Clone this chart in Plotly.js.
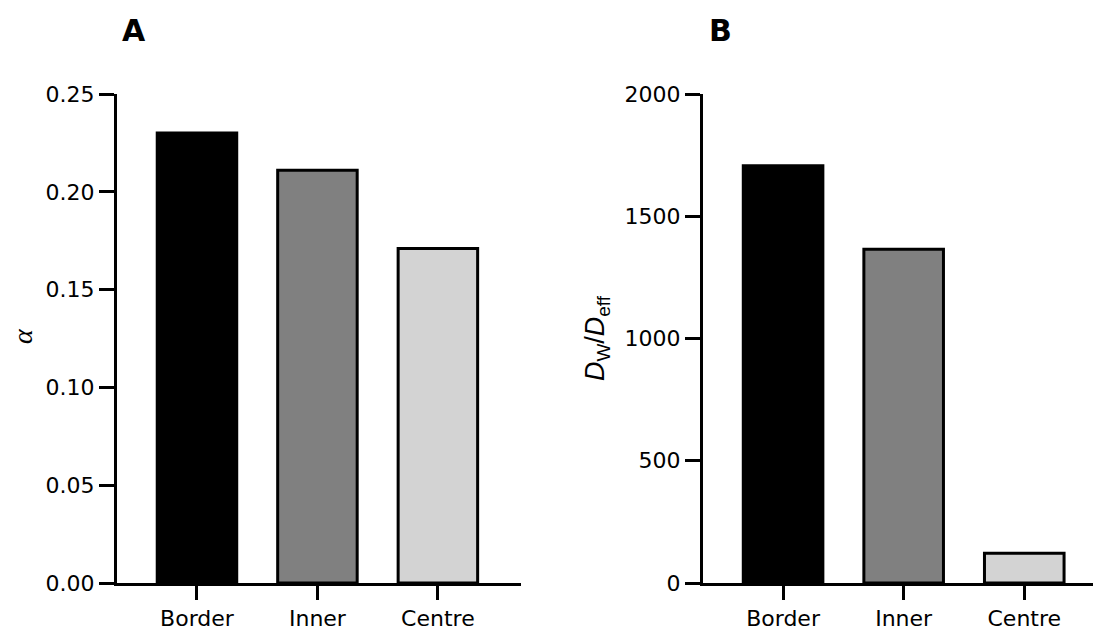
<!DOCTYPE html>
<html>
<head>
<meta charset="utf-8">
<script src="https://cdn.plot.ly/plotly-3.0.1.min.js"></script>
<style>
html,body{margin:0;padding:0;background:#fff;}
#chart{width:1094px;height:630px;}
</style>
</head>
<body>
<div id="chart"></div>
<script>
const categories = ['Border', 'Inner', 'Centre'];
const alphaValues = [0.230, 0.211, 0.171];
const ratioValues = [1707, 1365, 122];
const barColors = ['#000000', '#808080', '#d3d3d3'];
const alphaTicks = [0, 0.05, 0.10, 0.15, 0.20, 0.25];
const ratioTicks = [0, 500, 1000, 1500, 2000];

const fontTick = {family: 'DejaVu Sans', size: 22, color: '#000'};

const traces = [
  {
    type: 'bar', x: categories, y: alphaValues, xaxis: 'x', yaxis: 'y',
    width: 0.66,
    marker: {color: barColors, line: {color: '#000', width: 3}},
    hoverinfo: 'none'
  },
  {
    type: 'bar', x: categories, y: ratioValues, xaxis: 'x2', yaxis: 'y2',
    width: 0.66,
    marker: {color: barColors, line: {color: '#000', width: 3}},
    hoverinfo: 'none'
  }
];

const axisCommon = {
  showline: true, linecolor: '#000', linewidth: 3,
  showgrid: false, zeroline: false,
  ticks: 'outside', tickwidth: 3, tickcolor: '#000',
  tickfont: fontTick
};

const layout = {
  width: 1094, height: 630,
  margin: {l: 0, r: 0, t: 0, b: 0},
  paper_bgcolor: '#fff', plot_bgcolor: '#fff',
  showlegend: false,
  xaxis: Object.assign({}, axisCommon, {
    domain: [117/1094, 521/1094], anchor: 'y',
    type: 'category', range: [-0.664, 2.69], ticklen: 14
  }),
  yaxis: Object.assign({}, axisCommon, {
    domain: [47/630, 536/630], anchor: 'x',
    range: [0, 0.25], tickvals: alphaTicks, tickformat: '.2f', ticklen: 15
  }),
  xaxis2: Object.assign({}, axisCommon, {
    domain: [703/1094, 1093/1094], anchor: 'y2',
    type: 'category', range: [-0.664, 2.57], ticklen: 14
  }),
  yaxis2: Object.assign({}, axisCommon, {
    domain: [47/630, 536/630], anchor: 'x2',
    range: [0, 2000], tickvals: ratioTicks, ticklen: 15
  }),
  annotations: [
    {text: '<b>A</b>', xref: 'paper', yref: 'paper', x: 134/1094, y: 1 - 30/630,
     showarrow: false, xanchor: 'center', yanchor: 'middle',
     font: {family: 'DejaVu Sans', size: 30, color: '#000'}},
    {text: '<b>B</b>', xref: 'paper', yref: 'paper', x: 720/1094, y: 1 - 30/630,
     showarrow: false, xanchor: 'center', yanchor: 'middle',
     font: {family: 'DejaVu Sans', size: 30, color: '#000'}},
    {text: '<i>α</i>', xref: 'paper', yref: 'paper', x: 22/1094, y: 1 - 336/630,
     showarrow: false, xanchor: 'center', yanchor: 'middle', textangle: -90,
     font: {family: 'Liberation Serif', size: 28, color: '#000'}},
    {text: '<i>D</i><sub>W</sub>/<i>D</i><sub>eff</sub>', xref: 'paper', yref: 'paper',
     x: 597/1094, y: 1 - 338/630,
     showarrow: false, xanchor: 'center', yanchor: 'middle', textangle: -90,
     font: {family: 'Liberation Sans', size: 27, color: '#000'}}
  ]
};

Plotly.newPlot('chart', traces, layout, {staticPlot: true, displayModeBar: false});
</script>
</body>
</html>
